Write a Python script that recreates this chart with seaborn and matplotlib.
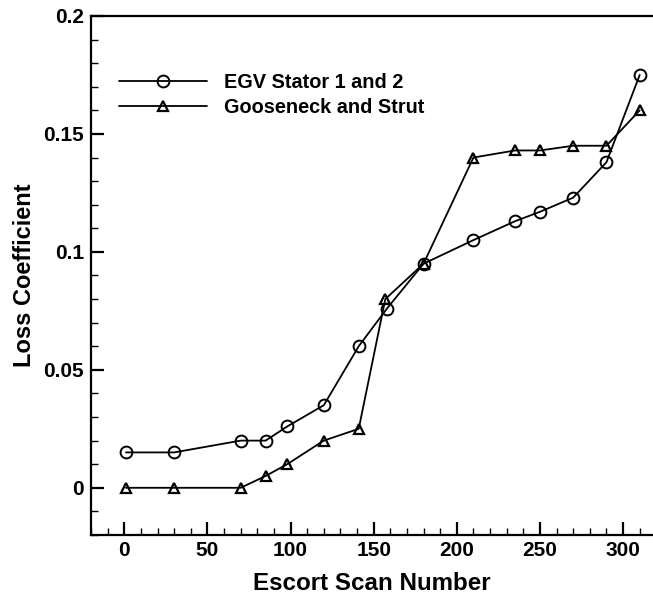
import matplotlib
matplotlib.use("Agg")
import matplotlib.pyplot as plt
import seaborn as sns
import pandas as pd
from matplotlib.ticker import MultipleLocator

scan_egv = [1, 30, 70, 85, 98, 120, 141, 158, 180, 210, 235, 250, 270, 290, 310]
loss_egv = [0.015, 0.015, 0.020, 0.020, 0.026, 0.035, 0.060, 0.076, 0.095, 0.105, 0.113, 0.117, 0.123, 0.138, 0.175]
scan_goose = [1, 30, 70, 85, 98, 120, 141, 157, 180, 210, 235, 250, 270, 290, 310]
loss_goose = [0.0, 0.0, 0.0, 0.005, 0.010, 0.020, 0.025, 0.080, 0.095, 0.140, 0.143, 0.143, 0.145, 0.145, 0.160]
labels = ["EGV Stator 1 and 2", "Gooseneck and Strut"]

sns.set_style("ticks")
plt.rcParams['font.family'] = ['Liberation Sans', 'DejaVu Sans']
plt.rcParams['font.weight'] = 'bold'
plt.rcParams['text.color'] = 'black'
plt.rcParams['axes.labelcolor'] = 'black'
plt.rcParams['xtick.color'] = 'black'
plt.rcParams['ytick.color'] = 'black'

fig = plt.figure(figsize=(6.53, 5.97), dpi=100)
ax = fig.add_axes([0.1394, 0.1039, 0.8606, 0.8693])

df1 = pd.DataFrame({"x": scan_egv, "y": loss_egv})
df2 = pd.DataFrame({"x": scan_goose, "y": loss_goose})
sns.lineplot(data=df1, x="x", y="y", ax=ax, color="black", lw=1.3, marker="o",
             markersize=8.5, markerfacecolor="none", markeredgecolor="black",
             markeredgewidth=1.4, sort=False, label=labels[0])
sns.lineplot(data=df2, x="x", y="y", ax=ax, color="black", lw=1.3, marker="^",
             markersize=7, markerfacecolor="none", markeredgecolor="black",
             markeredgewidth=1.6, sort=False, label=labels[1])

ax.set_xlim(-20, 318)
ax.set_ylim(-0.02, 0.2)
ax.xaxis.set_major_locator(MultipleLocator(50))
ax.xaxis.set_minor_locator(MultipleLocator(10))
ax.yaxis.set_minor_locator(MultipleLocator(0.01))
ax.set_yticks([0, 0.05, 0.1, 0.15, 0.2])
ax.set_yticklabels(["0", "0.05", "0.1", "0.15", "0.2"])
ax.tick_params(which="major", direction="in", length=9.5, width=1.6, labelsize=15,
               colors="black")
ax.tick_params(axis="x", which="major", pad=4)
ax.tick_params(axis="y", which="major", pad=5)
ax.tick_params(which="minor", direction="in", length=5, width=1, colors="black")
for lab in ax.get_xticklabels() + ax.get_yticklabels():
    lab.set_fontweight("bold")
for s in ax.spines.values():
    s.set_linewidth(1.6)
    s.set_color("black")
ax.spines["right"].set_visible(False)

ax.set_xlabel("Escort Scan Number", fontsize=17.4, fontweight="bold", labelpad=9)
ax.set_ylabel("Loss Coefficient", fontsize=17.0, fontweight="bold", labelpad=5)

leg = ax.legend(loc="upper left", bbox_to_anchor=(0.05, 0.891), frameon=False,
                handlelength=4.4, handletextpad=0.9, labelspacing=0.3,
                prop={"size": 14.3, "weight": "bold"}, borderaxespad=0, borderpad=0)
for t in leg.get_texts():
    t.set_color("black")

fig.savefig("out.png", dpi=100)
